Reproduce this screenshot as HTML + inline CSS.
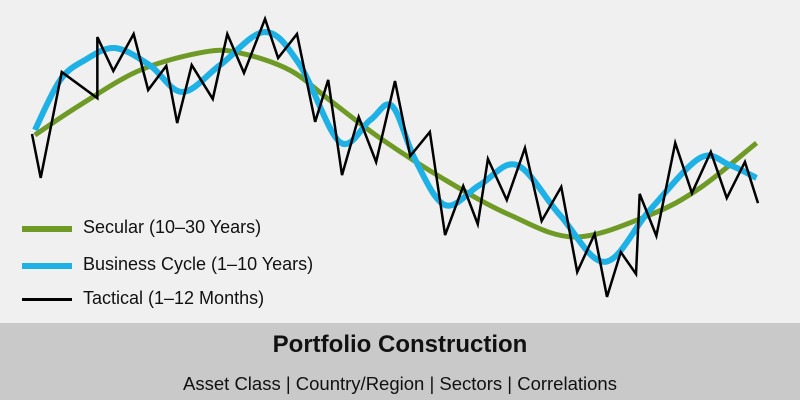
<!DOCTYPE html>
<html><head><meta charset="utf-8"><style>
html,body{margin:0;padding:0;background:#f0f0f0;}
#wrap{position:relative;width:800px;height:400px;overflow:hidden;font-family:"Liberation Sans",sans-serif;}
.band{position:absolute;left:0;top:323px;width:800px;height:77px;background:#c9c9c9;}
.title{position:absolute;left:0;width:800px;top:331px;text-align:center;font-weight:bold;font-size:24px;color:#111;}
.sub{position:absolute;left:0;width:800px;top:373px;text-align:center;font-size:18.5px;color:#111;}
.leg{position:absolute;left:22px;height:20px;}
.leg .sw{position:absolute;left:0;top:7px;width:50px;}
.leg .tx{position:absolute;left:61px;top:-2px;font-size:18px;color:#111;white-space:nowrap;}
</style></head><body>
<div id="wrap">
<svg id="chart" width="800" height="323" style="position:absolute;left:0;top:0"></svg>
<div class="leg" style="top:219px"><div class="sw" style="height:6px;background:#6e9a25"></div><div class="tx">Secular (10–30 Years)</div></div>
<div class="leg" style="top:256px"><div class="sw" style="height:6px;background:#1eb1e6"></div><div class="tx">Business Cycle (1–10 Years)</div></div>
<div class="leg" style="top:290px"><div class="sw" style="height:3px;top:8px;background:#000"></div><div class="tx">Tactical (1–12 Months)</div></div>
<div class="band"></div>
<div class="title">Portfolio Construction</div>
<div class="sub">Asset Class | Country/Region | Sectors | Correlations</div>
</div>
<script>
const greenT=[0.4,6.6,14.9,23.8,28.7,35.5,41.0,47.9,56.9,65.8,74.8,85.1,92.0,99.8];
const greenV=[58.9,69.6,82.1,88.6,88.2,82.1,71.4,57.9,42.9,30.4,22.5,30.4,40.0,56.1];
const blueT=[0.4,3.9,7.3,11.4,16.2,20.7,25.9,32.1,36.9,42.4,46.6,49.6,52.8,56.9,61.7,66.8,72.7,78.9,85.1,92.0,96.1,99.8];
const blueV=[60.7,78.6,85.7,90,83.9,74.3,83.9,95.7,83.9,56.4,64.3,69.3,50,33.9,41.1,48.2,30.4,13.6,32.1,50.7,48.2,43.6];
const blackT=[0,1.2,4.1,9.0,9.0,11.2,14.0,16.0,18.5,20.0,22.0,24.9,26.9,29.2,32.1,33.9,36.5,39.0,40.8,42.7,45.0,47.4,50.0,52.1,54.8,56.9,59.4,61.4,62.8,65.4,67.9,70.2,72.9,75.1,77.5,79.2,81.1,83.2,83.7,86.0,88.6,90.9,93.5,95.7,98.2,100];
const blackV=[59.3,43.6,81.4,72.1,93.9,81.8,95.0,75.0,83.6,63.2,83.9,71.8,95.0,81.1,100.4,86.4,95.0,63.6,78.6,44.6,65.4,49.3,78.2,51.4,60.0,23.2,40.7,27.1,50.4,35.7,54.3,28.2,40.4,10.0,23.6,1.1,17.1,9.3,37.9,22.9,56.1,38.2,52.9,36.4,49.3,34.6];
const X=t=>32+t*7.26, Y=v=>300-v*2.8;
const svg=document.getElementById('chart');
function smooth(ts,vs){const p=ts.map((t,i)=>[X(t),Y(vs[i])]);let d='M'+p[0][0]+','+p[0][1];
for(let i=0;i<p.length-1;i++){const a=p[i-1]||p[i],b=p[i],c=p[i+1],e=p[i+2]||c;
d+=' C'+(b[0]+(c[0]-a[0])/6)+','+(b[1]+(c[1]-a[1])/6)+' '+(c[0]-(e[0]-b[0])/6)+','+(c[1]-(e[1]-b[1])/6)+' '+c[0]+','+c[1];}return d;}
function mk(d,col,w,name){const el=document.createElementNS('http://www.w3.org/2000/svg','path');el.setAttribute('d',d);el.setAttribute('fill','none');el.setAttribute('stroke',col);el.setAttribute('stroke-width',w);el.setAttribute('stroke-linejoin','miter');


svg.appendChild(el);}
mk(smooth(greenT,greenV),'#6e9a25',5,'secular-line');
mk(smooth(blueT,blueV),'#1eb1e6',6,'business-cycle-line');
mk('M'+blackT.map((t,i)=>X(t)+','+Y(blackV[i])).join(' L'),'#000',2.5,'tactical-line');
</script>
</body></html>
